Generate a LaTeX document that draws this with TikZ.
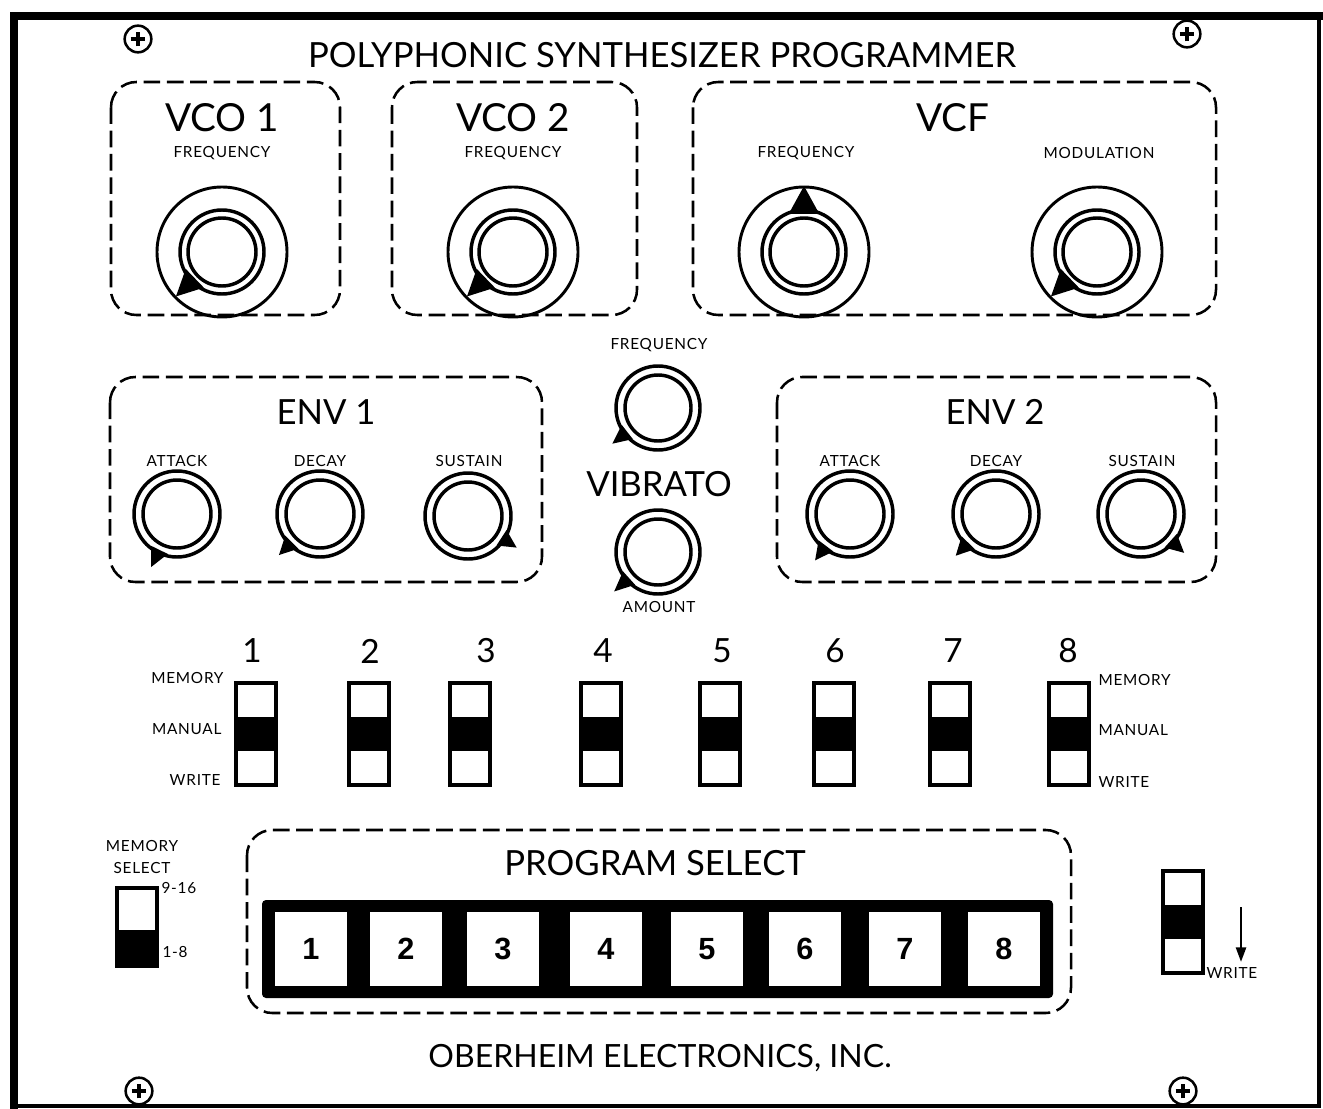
\documentclass[tikz,border=0pt]{standalone}
\usepackage{fontspec}
\setmainfont{Lato}
\newfontfamily\keyfont{Liberation Sans}
\usetikzlibrary{arrows.meta}

\tikzset{every picture/.style={line width=0.75pt}}
\tikzset{
  zone/.style={line width=1.9pt, dash pattern=on 12.5pt off 5pt, rounded corners=19pt},
  rim/.style={line width=2.2pt},
  ring/.style={line width=2.6pt},
  screw/.style={circle, draw, line width=1.9pt, minimum size=20pt, inner sep=0pt,
    path picture={\draw[line width=2.6pt] (path picture bounding box.center) +(-5.5pt,0) -- +(5.5pt,0)
      (path picture bounding box.center) +(0,-5.5pt) -- +(0,5.5pt);}},
  sw/.style={draw, line width=2.8pt, minimum width=30pt, minimum height=77pt, inner sep=0pt,
    path picture={\fill ([yshift=-12.75pt]path picture bounding box.west) rectangle ([yshift=12.75pt]path picture bounding box.east);}},
  halfsw/.style={draw, line width=2.8pt, minimum width=30pt, minimum height=58.5pt, inner sep=0pt,
    path picture={\fill ([yshift=-2pt]path picture bounding box.west) rectangle (path picture bounding box.south east);}},
  pkey/.style={fill=white, minimum width=54.5pt, minimum height=56pt, inner sep=0pt,
    font=\keyfont\bfseries\fontsize{23}{25}\selectfont},
  head/.style={font=\fontsize{26}{28}\selectfont, inner sep=0.75pt},
  unit/.style={font=\fontsize{29}{31}\selectfont, inner sep=0.75pt},
  tag/.style={font=\fontsize{11.5}{13}\selectfont\addfontfeature{LetterSpace=5}, inner sep=0.75pt},
  num/.style={font=\fontsize{25}{27}\selectfont, inner sep=0.75pt},
}

\begin{document}
\begin{tikzpicture}[x=0.75pt,y=0.75pt,yscale=-1,xscale=1]
\useasboundingbox (0,0) rectangle (1323,1109);

% Panel frame
\draw[line width=6.5pt, line cap=rect] (1319,16) -- (14,16) -- (14,1106);
\draw[line width=2.6pt] (14,1106) -- (1319,1106) -- (1319,16);

% Screws
\node[screw] (stl) at (138,39) {};
\node[screw] (str) at (1187,34) {};
\node[screw] (sbl) at (139,1091) {};
\node[screw] (sbr) at (1183,1091) {};

% Text Node
\node[head] (title) at (662,55) {POLYPHONIC SYNTHESIZER PROGRAMMER};

% Zones
\draw[zone] (111,82) rectangle (340,315);
\draw[zone] (392,82) rectangle (637,315);
\draw[zone] (693,82) rectangle (1216,315);
\draw[zone] (110,377) rectangle (542,582);
\draw[zone] (777,377) rectangle (1216,582);
\draw[zone] (247,830) rectangle (1071,1013);

% VCO 1
\node[unit] (vcoalbl) at (222,118) {VCO 1};
\node[tag] (vcoafrq) at (222,153) {FREQUENCY};
\coordinate (vcoa) at (222,252);
\draw[rim] (vcoa) circle [radius=65];
\draw[ring] (vcoa) circle [radius=42] (vcoa) circle [radius=34];
\fill (vcoa) +(136:64) -- +(117:40) -- +(155:40) -- cycle;

% VCO 2
\node[unit] (vcoblbl) at (513,118) {VCO 2};
\node[tag] (vcobfrq) at (513,153) {FREQUENCY};
\coordinate (vcob) at (513,252);
\draw[rim] (vcob) circle [radius=65];
\draw[ring] (vcob) circle [radius=42] (vcob) circle [radius=34];
\fill (vcob) +(136:64) -- +(117:40) -- +(155:40) -- cycle;

% VCF
\node[unit] (vcflbl) at (953,118) {VCF};
\node[tag] (vcffrq) at (806,153) {FREQUENCY};
\node[tag] (vcfmod) at (1099,153) {MODULATION};
\coordinate (vcff) at (804,252);
\draw[rim] (vcff) circle [radius=65];
\draw[ring] (vcff) circle [radius=42] (vcff) circle [radius=34];
\fill (vcff) +(270:66) -- +(248:41) -- +(292:41) -- cycle;
\coordinate (vcfm) at (1097,252);
\draw[rim] (vcfm) circle [radius=65];
\draw[ring] (vcfm) circle [radius=42] (vcfm) circle [radius=34];
\fill (vcfm) +(136:64) -- +(117:40) -- +(155:40) -- cycle;

% ENV 1
\node[head] (envalbl) at (326,412) {ENV 1};
\node[tag] (envaatk) at (177,461) {ATTACK};
\node[tag] (envadec) at (320,461) {DECAY};
\node[tag] (envasus) at (469,461) {SUSTAIN};
\coordinate (enva1) at (177,514);
\draw[ring] (enva1) circle [radius=43] (enva1) circle [radius=34];
\fill (enva1) +(116:59) -- +(103:41) -- +(129:41) -- cycle;
\coordinate (enva2) at (320,514);
\draw[ring] (enva2) circle [radius=43] (enva2) circle [radius=34];
\fill (enva2) +(135:58) -- +(122:41) -- +(148:41) -- cycle;
\coordinate (enva3) at (468,516);
\draw[ring] (enva3) circle [radius=43] (enva3) circle [radius=34];
\fill (enva3) +(33:58) -- +(20:41) -- +(46:41) -- cycle;

% Vibrato
\node[tag] (vibfrq) at (659,345) {FREQUENCY};
\node[head] (viblbl) at (659,484) {VIBRATO};
\node[tag] (vibamt) at (659,607) {AMOUNT};
\coordinate (vibf) at (658,408);
\draw[ring] (vibf) circle [radius=42] (vibf) circle [radius=33];
\fill (vibf) +(142:58) -- +(129:40) -- +(155:40) -- cycle;
\coordinate (viba) at (658,552);
\draw[ring] (viba) circle [radius=42] (viba) circle [radius=33];
\fill (viba) +(138:59) -- +(125:40) -- +(151:40) -- cycle;

% ENV 2
\node[head] (envblbl) at (995,412) {ENV 2};
\node[tag] (envbatk) at (850,461) {ATTACK};
\node[tag] (envbdec) at (996,461) {DECAY};
\node[tag] (envbsus) at (1142,461) {SUSTAIN};
\coordinate (envb1) at (850,514);
\draw[ring] (envb1) circle [radius=43] (envb1) circle [radius=34];
\fill (envb1) +(127:58) -- +(114:41) -- +(140:41) -- cycle;
\coordinate (envb2) at (996,514);
\draw[ring] (envb2) circle [radius=43] (envb2) circle [radius=34];
\fill (envb2) +(134:58) -- +(121:41) -- +(147:41) -- cycle;
\coordinate (envb3) at (1141,514);
\draw[ring] (envb3) circle [radius=43] (envb3) circle [radius=34];
\fill (envb3) +(42:58) -- +(29:41) -- +(55:41) -- cycle;

% Voice switches
\node[num] (n1) at (252,651) {1};
\node[num] (n2) at (370,651) {2};
\node[num] (n3) at (486,651) {3};
\node[num] (n4) at (603,651) {4};
\node[num] (n5) at (722,651) {5};
\node[num] (n6) at (835,651) {6};
\node[num] (n7) at (953,651) {7};
\node[num] (n8) at (1068,651) {8};
\node[sw] (v1) at (256,734) {};
\node[sw] (v2) at (369,734) {};
\node[sw] (v3) at (470,734) {};
\node[sw] (v4) at (601,734) {};
\node[sw] (v5) at (720,734) {};
\node[sw] (v6) at (834,734) {};
\node[sw] (v7) at (950,734) {};
\node[sw] (v8) at (1069,734) {};
\node[tag, anchor=east] (lmem) at (225,678) {MEMORY};
\node[tag, anchor=east] (lman) at (223,729) {MANUAL};
\node[tag, anchor=east] (lwri) at (222,780) {WRITE};
\node[tag, anchor=west] (rmem) at (1097,680) {MEMORY};
\node[tag, anchor=west] (rman) at (1097,730) {MANUAL};
\node[tag, anchor=west] (rwri) at (1097,782) {WRITE};

% Memory select
\node[tag] (msel1) at (142,846) {MEMORY};
\node[tag] (msel2) at (142,868) {SELECT};
\node[halfsw] (msw) at (137,927) {};
\node[tag, anchor=west] (mhi) at (160,888) {9-16};
\node[tag, anchor=west] (mlo) at (161,952) {1-8};

% Program select
\node[head] (plbl) at (655,863) {PROGRAM SELECT};
\fill[rounded corners=3pt] (262,900) rectangle (1053,998);
\node[pkey] (p1) at (311,949) {1};
\node[pkey] (p2) at (406,949) {2};
\node[pkey] (p3) at (503,949) {3};
\node[pkey] (p4) at (606,949) {4};
\node[pkey] (p5) at (707,949) {5};
\node[pkey] (p6) at (805,949) {6};
\node[pkey] (p7) at (905,949) {7};
\node[pkey] (p8) at (1004,949) {8};

% Write switch
\node[sw, minimum height=76.5pt] (wsw) at (1183,922) {};
\coordinate (wtop) at (1241,907);
\coordinate (wbot) at (1241,962);
\draw[line width=1.9pt, -{Triangle[length=11pt,width=7.5pt]}] (wtop) -- (wbot);
\node[tag, anchor=west] (wlbl) at (1205,973) {WRITE};

% Maker
\node[font=\fontsize{24}{26}\selectfont, inner sep=0.75pt] (maker) at (660,1058) {OBERHEIM ELECTRONICS, INC.};

\end{tikzpicture}
\end{document}
